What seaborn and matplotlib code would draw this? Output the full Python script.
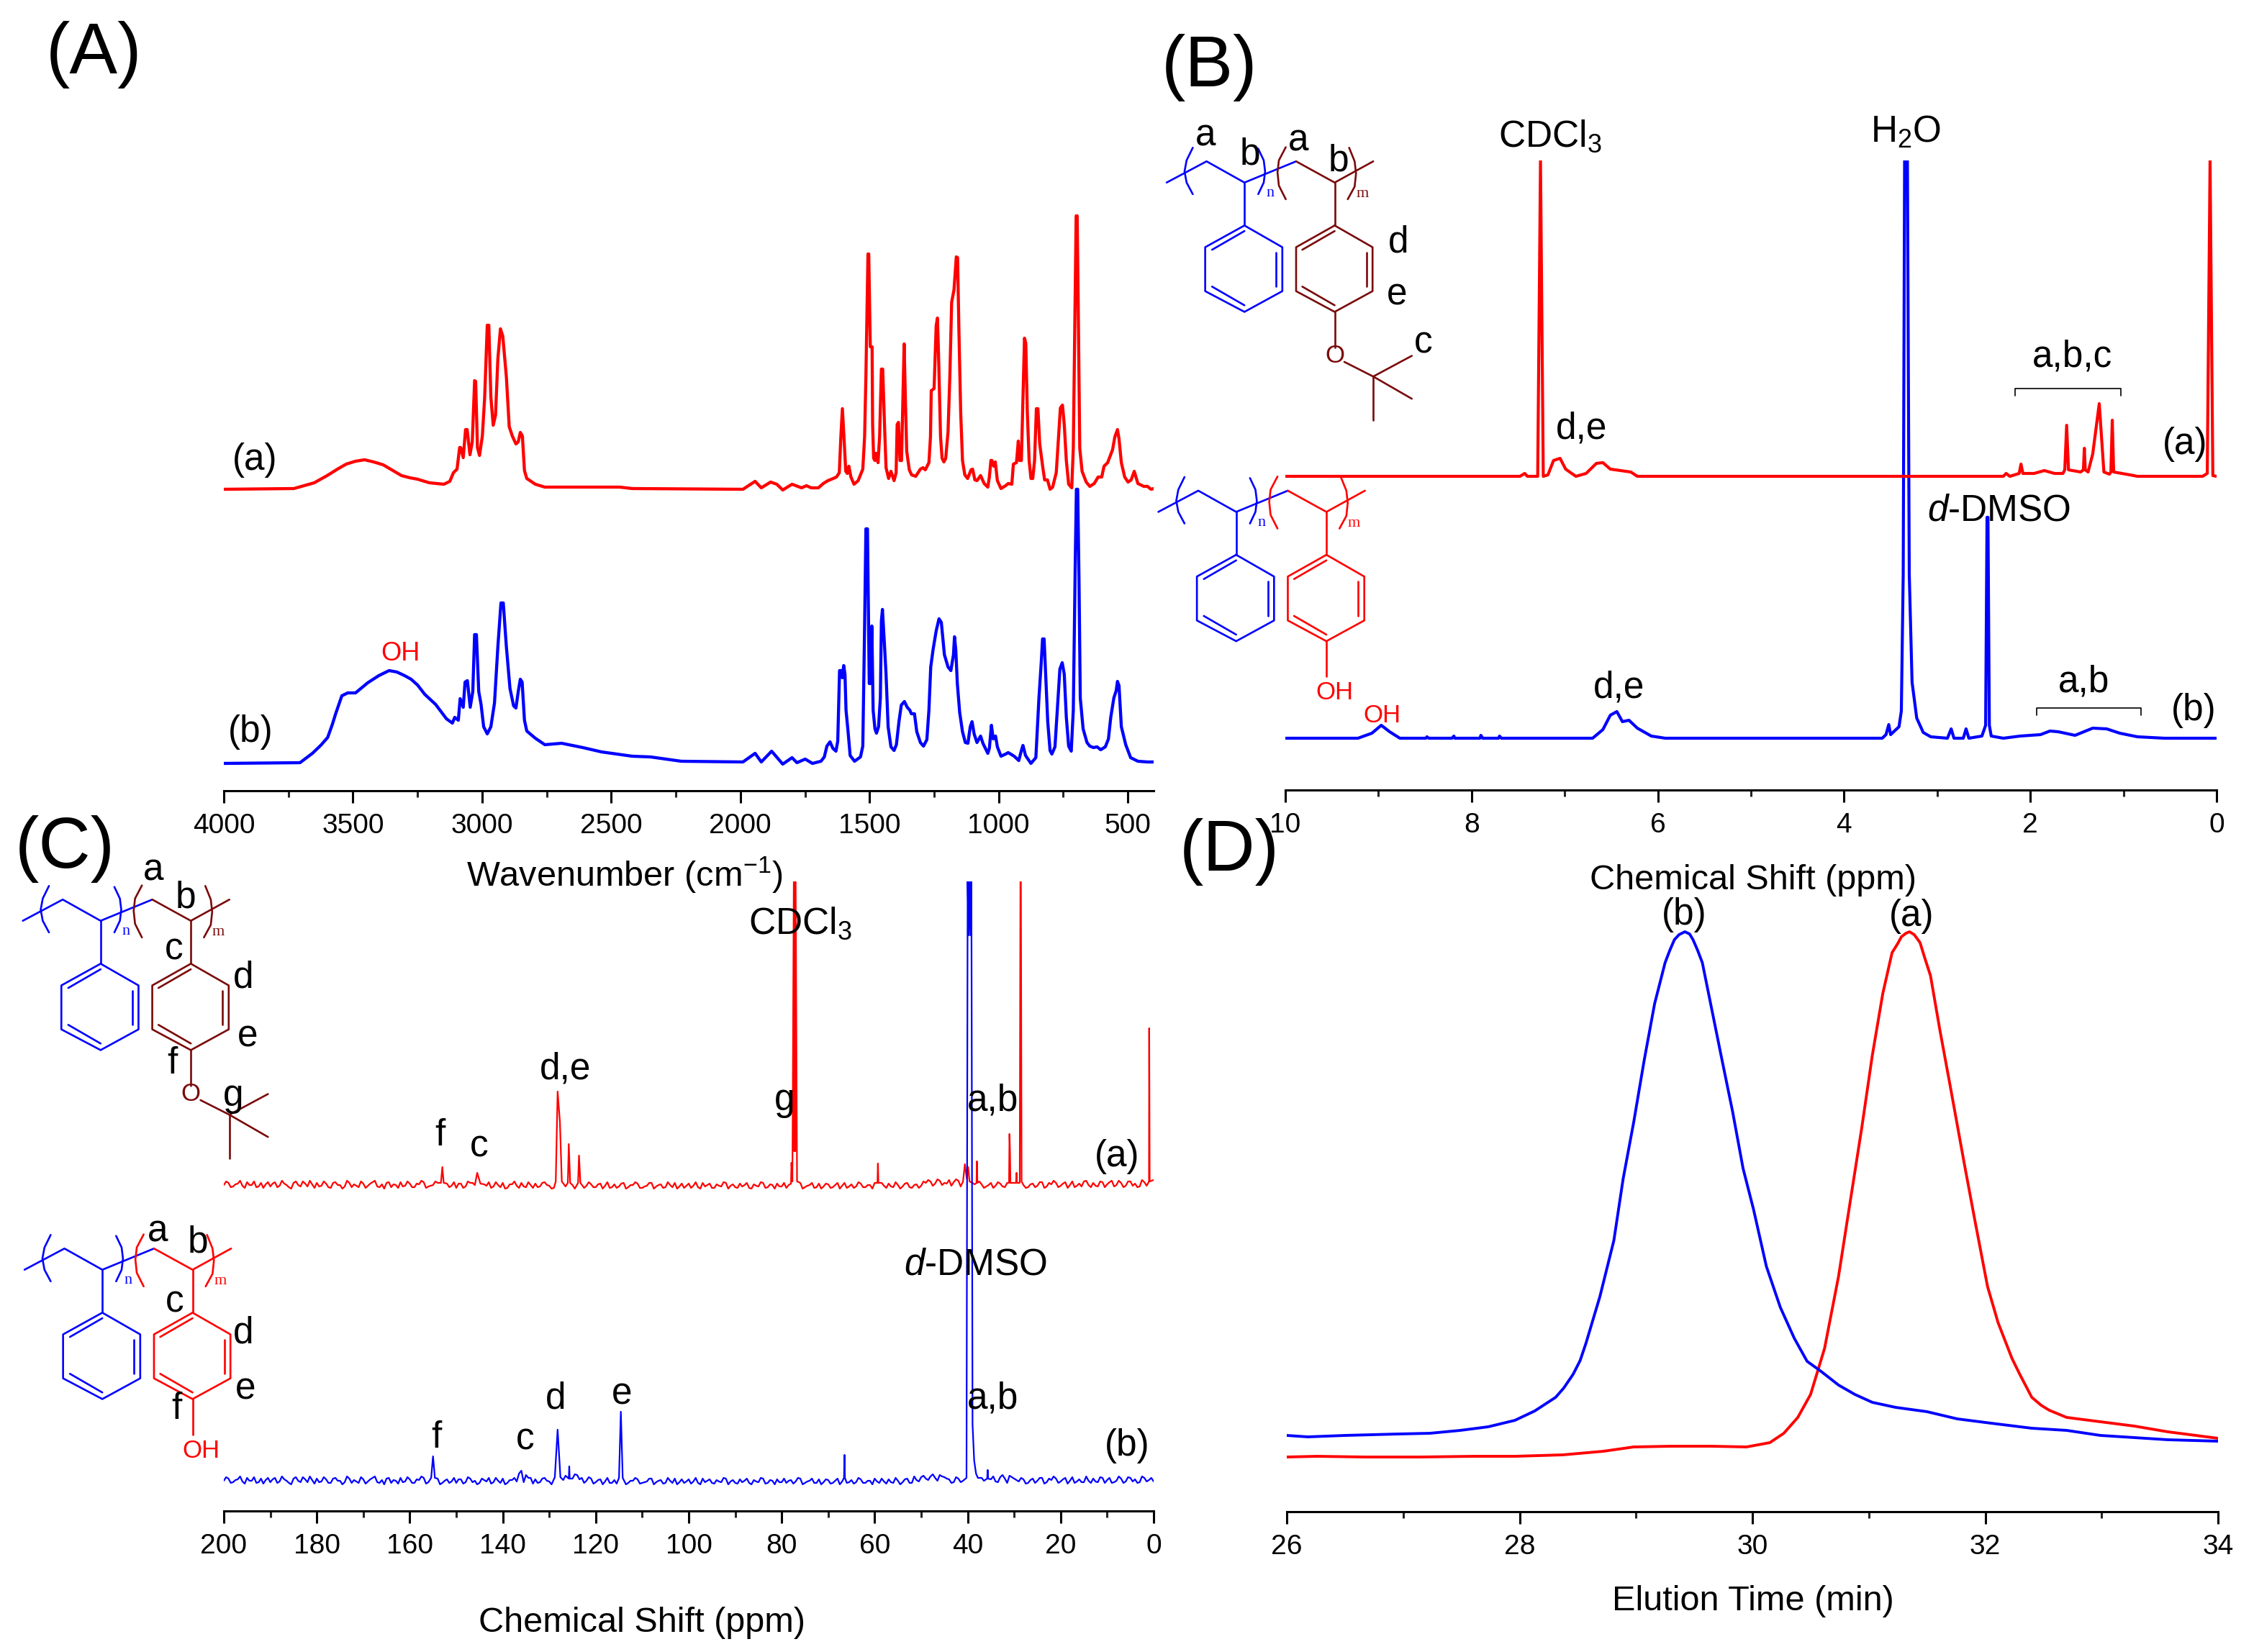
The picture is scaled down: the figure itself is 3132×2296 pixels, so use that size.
import numpy as np
import matplotlib
matplotlib.use("Agg")
import matplotlib.pyplot as plt
import seaborn as sns

W, H = 3132, 2296
RED = "#FF0000"
BLUE = "#0000FF"
DARK = "#7A0A0A"

# ---- (A) FTIR, wavenumber vs intensity (a.u.)
ir_a_wn = [4000, 3729, 3669, 3650, 3600, 3560, 3526, 3490, 3455, 3420, 3383, 3350, 3312, 3280,
           3250, 3204, 3148, 3125, 3111, 3097, 3087, 3083, 3073, 3064, 3058, 3047, 3038, 3029, 3025, 3018, 3010, 2999,
           2990, 2980, 2974, 2966, 2957, 2948, 2939, 2929, 2920, 2906, 2895, 2883, 2869, 2860, 2852, 2844, 2836, 2827,
           2794, 2757, 2692, 2467, 2419, 1990, 1943, 1919, 1883, 1859, 1836,
           1800, 1763, 1744, 1726, 1698, 1679, 1661, 1647, 1628, 1617, 1611, 1605, 1599, 1592, 1586, 1580, 1572, 1560,
           1544, 1526, 1519, 1514, 1506, 1503, 1497, 1490, 1488, 1484, 1479, 1475, 1467, 1461, 1454, 1449, 1442, 1436,
           1426, 1417, 1405, 1397, 1393, 1388, 1382, 1376, 1371, 1366, 1361, 1356, 1346, 1337, 1321, 1303, 1293, 1284,
           1270, 1264, 1261, 1250, 1242, 1237, 1233, 1225, 1219, 1212, 1205, 1196, 1189, 1182, 1173, 1164, 1159, 1154,
           1147, 1140, 1131, 1120, 1107, 1101, 1092, 1084, 1070, 1056, 1042, 1036, 1030, 1026, 1019, 1013, 1005, 991,
           973, 963, 949, 943, 931, 924, 919, 912, 906, 900, 895, 889, 882, 875, 868, 861, 854, 848, 841, 829, 822, 811,
           801, 791, 777, 768, 761, 753, 746, 738, 729, 717, 711, 703, 700, 696, 692, 686, 677, 661, 647, 630, 615, 601,
           592, 578, 559, 550, 540, 534, 525, 512, 499, 487, 475, 461, 438, 424, 410, 400]
ir_a_int = [419, 420, 426, 428, 438, 447, 454, 458, 460, 457, 453, 446, 438, 435,
            433, 428, 426, 430, 442, 447, 477, 477, 463, 502, 502, 467, 485, 570, 569, 477, 466, 493,
            547, 647, 647, 547, 508, 522, 600, 642, 632, 575, 506, 493, 482, 485, 498, 493, 445, 434,
            426, 422, 422, 422, 420, 419, 430, 421, 429, 426, 418,
            426, 421, 424, 421, 421, 427, 431, 433, 436, 442, 492, 531, 492, 444, 441, 451, 436, 426,
            431, 447, 492, 576, 746, 746, 617, 617, 509, 462, 459, 469, 456, 492, 586, 586, 509, 449,
            434, 444, 431, 442, 509, 512, 459, 459, 542, 621, 542, 472, 446, 439, 437, 447, 449, 446,
            456, 492, 556, 559, 646, 657, 609, 492, 462, 457, 462, 499, 576, 679, 696, 742, 741, 642,
            526, 459, 439, 434, 446, 447, 432, 431, 438, 427, 422, 436, 459, 459, 451, 457, 431, 420,
            424, 427, 426, 454, 456, 486, 459, 459, 542, 629, 622, 526, 459, 434, 434, 459, 531, 531, 482, 449, 432, 432,
            419, 422, 442, 492, 532, 536, 509, 459, 426, 421, 476, 709, 799, 799, 676, 476, 444, 429, 423, 427, 436, 436,
            451, 456, 474, 492, 502, 489, 456, 436, 429, 432, 444, 427, 423, 423, 419, 420]
ir_b_wn = [4000, 3705, 3657, 3625, 3598, 3580, 3567, 3543, 3520, 3490, 3443, 3400, 3360, 3330, 3300, 3275,
           3250, 3222, 3180, 3138, 3115, 3106, 3092, 3085, 3073, 3066, 3057, 3046, 3036, 3029, 3022, 3013, 3004, 2994,
           2980, 2966, 2952, 2939, 2927, 2918, 2906, 2892, 2878, 2869, 2860, 2852, 2845, 2836, 2827, 2794, 2757, 2692,
           2610, 2538, 2419, 2348, 2229, 1990, 1943, 1919, 1879, 1836,
           1800, 1781, 1749, 1721, 1688, 1675, 1665, 1653, 1642, 1630, 1623, 1616, 1609, 1605, 1600, 1595, 1591, 1583,
           1575, 1558, 1535, 1526, 1519, 1514, 1508, 1501, 1496, 1491, 1486, 1479, 1473, 1465, 1458, 1454, 1450, 1442,
           1436, 1428, 1417, 1405, 1396, 1386, 1377, 1365, 1354, 1344, 1338, 1326, 1317, 1303, 1291, 1278, 1270, 1263,
           1254, 1242, 1231, 1222, 1210, 1196, 1185, 1175, 1171, 1166, 1160, 1151, 1140, 1129, 1119, 1110, 1103, 1095,
           1084, 1070, 1061, 1042, 1036, 1028, 1021, 1012, 1005, 991, 973, 963, 940, 922, 912, 906, 896, 875, 856, 844,
           835, 830, 824, 818, 810, 801, 794, 782, 773, 763, 754, 746, 738, 729, 719, 711, 703, 699, 694, 689, 684, 673,
           658, 647, 633, 619, 605, 587, 575, 566, 554, 545, 540, 534, 525, 508, 489, 461, 424, 400]
ir_b_int = [38, 39, 52, 63, 74, 92, 107, 132, 136, 136, 150, 160, 167, 165, 160, 155,
            147, 134, 120, 100, 94, 102, 98, 128, 116, 151, 153, 116, 138, 217, 217, 138, 120, 89,
            79, 89, 122, 200, 261, 261, 200, 142, 118, 115, 138, 155, 151, 98, 83, 73, 64, 66,
            60, 54, 48, 47, 41, 40, 52, 40, 55, 37,
            46, 39, 44, 38, 41, 47, 62, 68, 59, 55, 69, 167, 167, 157, 174, 162, 112, 82,
            49, 41, 47, 62, 229, 364, 364, 149, 149, 229, 112, 86, 80, 89, 129, 236, 252, 202,
            162, 89, 61, 56, 64, 96, 119, 124, 116, 112, 107, 107, 82, 67, 62, 71, 112, 172,
            196, 222, 239, 234, 189, 172, 167, 189, 214, 196, 149, 109, 82, 67, 66, 89, 96, 79,
            67, 76, 66, 52, 59, 91, 72, 76, 61, 48, 51, 53, 48, 42, 56, 63, 49, 38, 46, 129,
            179, 211, 211, 162, 96, 56, 51, 61, 112, 169, 178, 162, 102, 62, 55, 112, 329, 419, 419, 296, 129, 86,
            67, 62, 60, 61, 57, 61, 72, 102, 129, 139, 152, 146, 89, 64, 46, 41, 40, 40]
ir_ticks = [4000, 3500, 3000, 2500, 2000, 1500, 1000, 500]

# ---- (B) 1H NMR
h1_a_ppm = [10, 7.48, 7.43, 7.40, 7.29, 7.26, 7.23, 7.18, 7.12, 7.05, 6.99, 6.88, 6.77, 6.66, 6.59, 6.51, 6.40,
            6.29, 6.22, 2.29, 2.26, 2.22, 2.12, 2.10, 2.08, 1.96, 1.85, 1.74, 1.65, 1.63, 1.61, 1.59, 1.46, 1.43, 1.42,
            1.41, 1.38, 1.33, 1.26, 1.21, 1.15, 1.135, 1.12, 1.105, 0.93, 0.85, 0.15, 0.10, 0.07, 0.04, 0]
h1_a_int = [436, 436, 440, 436, 436, 875, 436, 438, 458, 461, 446, 436, 440, 454, 455, 446, 444,
            442, 436, 436, 440, 436, 440, 453, 440, 440, 444, 440, 440, 445, 507, 445, 442, 445, 475,
            445, 442, 467, 537, 442, 439, 442, 514, 442, 438, 436, 436, 440, 875, 437, 436]
h1_b_ppm = [10, 9.22, 9.07, 8.97, 8.88, 8.77, 8.49, 8.48, 8.46, 8.21, 8.19, 8.18, 7.91, 7.90, 7.88, 7.71, 7.70, 7.68,
            6.70, 6.59, 6.51, 6.44, 6.38, 6.31, 6.22, 6.07, 5.92, 3.59, 3.55, 3.52, 3.50, 3.41, 3.385, 3.365, 3.35, 3.32,
            3.30, 3.27, 3.22, 3.15, 3.07, 2.89, 2.85, 2.82, 2.72, 2.69, 2.66, 2.52, 2.48, 2.465, 2.455, 2.44, 2.42, 2.29,
            2.11, 1.89, 1.79, 1.70, 1.52, 1.33, 1.18, 1.04, 0.85, 0.56, 0]
h1_b_int = [72, 72, 79, 90, 81, 72, 72, 74, 72, 72, 75, 72, 72, 76, 72, 72, 75, 72,
            72, 84, 104, 109, 95, 97, 86, 75, 72, 72, 77, 91, 77, 88, 110, 300, 875, 875,
            300, 150, 100, 80, 74, 72, 85, 72, 72, 85, 72, 75, 90, 379, 379, 90, 75, 72,
            75, 77, 82, 81, 76, 86, 85, 79, 74, 72, 72]
h1_ticks = [10, 8, 6, 4, 2, 0]

# ---- (C) 13C NMR: baseline noise on whole ppm, on half ppm, then the peaks
c13_a_noise = [453, 456, 451, 455, 452, 457, 453, 450, 456, 454, 451, 457, 452, 455, 450, 456, 453, 458, 451, 454,
               456, 452, 455, 449, 457, 453, 451, 456, 454, 450, 455, 452, 457, 451, 454, 456, 450, 453, 457, 452,
               455, 450, 454, 457, 451, 453, 456, 450, 455, 452, 449, 455, 451, 456, 453, 450, 454, 457, 451, 453,
               456, 449, 454, 452, 456, 450, 453, 455, 451, 457, 452, 449, 454, 456, 451, 453, 449, 456, 452, 454,
               450, 455, 452, 449, 454, 451, 456, 450, 453, 455, 449, 452, 456, 451, 454, 450, 453, 456, 451, 449,
               455, 452, 450, 456, 453, 449, 454, 451, 456, 452, 450, 455, 453, 449, 454, 451, 456, 450, 453, 455,
               451, 449, 454, 452, 456, 450, 453, 449, 455, 451, 454, 450, 456, 452, 449, 454, 451, 455, 450, 453,
               456, 449, 452, 455, 450, 453, 451, 456, 449, 454, 452, 456, 458, 455, 459, 456, 460, 457, 459, 455,
               452, 456, 450, 454, 451, 456, 452, 455, 450, 454, 456, 451, 453, 450, 455, 452, 457, 451, 454, 456,
               452, 457, 453, 450, 455, 458, 453, 456, 451, 457, 454, 459, 453, 456, 452, 458, 455, 451, 457, 454,
               460]
c13_a_noise_mid = [458, 450, 454, 459, 449, 453, 458, 451, 449, 457, 455, 450, 459, 453, 448, 458, 451, 455, 459, 449,
                   451, 458, 450, 456, 453, 448, 459, 450, 452, 458, 449, 455, 459, 450, 448, 457, 454, 449, 451, 458,
                   450, 455, 459, 449, 452, 458, 448, 453, 450, 457, 455, 449, 458, 451, 448, 456, 452, 449, 457, 450,
                   448, 454, 458, 449, 451, 457, 449, 450, 456, 453, 448, 458, 449, 451, 456, 448, 452, 449, 457, 450,
                   454, 448, 457, 450, 449, 455, 448, 453, 457, 449, 451, 456, 448, 453, 449, 457, 450, 448, 455, 452,
                   449, 457, 448, 451, 455, 449, 452, 457, 448, 454, 449, 451, 456, 448, 452, 457, 449, 454, 448, 451,
                   456, 453, 449, 457, 448, 452, 456, 450, 448, 455, 449, 453, 448, 456, 451, 449, 457, 450, 453, 448,
                   452, 456, 449, 451, 457, 448, 455, 450, 453, 449, 458, 460, 452, 461, 453, 455, 452, 461, 451, 458,
                   449, 454, 458, 449, 453, 449, 457, 451, 456, 449, 451, 458, 449, 454, 450, 457, 449, 456, 459, 450,
                   455, 449, 458, 452, 451, 459, 450, 452, 458, 450, 457, 451, 459, 450, 458, 452, 450, 460, 452, 458]
c13_b_noise = [42, 45, 40, 44, 41, 46, 42, 39, 45, 43, 40, 46, 41, 44, 39, 45, 42, 47, 40, 43,
               45, 41, 44, 39, 46, 42, 40, 45, 43, 39, 44, 41, 46, 40, 43, 45, 39, 42, 46, 41,
               44, 39, 43, 46, 40, 42, 45, 39, 44, 41, 39, 44, 40, 45, 42, 39, 43, 46, 40, 42,
               45, 39, 43, 41, 45, 39, 42, 44, 40, 46, 41, 44, 47, 43, 49, 45, 50, 46, 42, 45,
               40, 44, 41, 39, 43, 40, 45, 39, 42, 44, 39, 41, 45, 40, 43, 39, 42, 45, 40, 39,
               44, 41, 39, 45, 42, 39, 43, 40, 45, 41, 39, 44, 42, 39, 43, 40, 45, 39, 42, 44,
               40, 39, 43, 41, 45, 39, 42, 39, 44, 40, 43, 39, 45, 41, 39, 43, 40, 44, 39, 42,
               45, 39, 41, 44, 39, 42, 40, 45, 39, 43, 47, 45, 48, 46, 50, 47, 44, 40, 45, 42,
               44, 48, 41, 46, 40, 44, 41, 47, 45, 49, 45, 41, 44, 39, 45, 42, 46, 40, 43, 45,
               41, 46, 42, 39, 44, 40, 42, 45, 40, 46, 43, 39, 42, 45, 41, 46, 44, 40, 46, 43,
               41]
c13_b_noise_mid = [47, 39, 43, 48, 38, 42, 47, 40, 38, 46, 44, 39, 48, 42, 37, 47, 40, 44, 48, 38,
                   40, 47, 39, 45, 42, 37, 48, 39, 41, 47, 38, 44, 48, 39, 37, 46, 43, 38, 40, 47,
                   39, 44, 48, 38, 41, 47, 37, 42, 39, 46, 44, 38, 47, 40, 37, 45, 41, 38, 46, 39,
                   37, 43, 47, 38, 40, 46, 38, 39, 45, 42, 37, 47, 39, 49, 41, 51, 44, 39, 47, 38,
                   43, 37, 46, 39, 38, 44, 37, 42, 46, 38, 40, 45, 37, 42, 38, 46, 39, 37, 44, 41,
                   38, 46, 37, 40, 44, 38, 41, 46, 37, 43, 38, 40, 45, 37, 41, 46, 38, 43, 37, 40,
                   45, 42, 38, 46, 37, 41, 45, 39, 37, 44, 38, 42, 37, 45, 40, 38, 46, 39, 42, 37,
                   41, 45, 38, 40, 46, 37, 44, 39, 48, 41, 49, 43, 51, 42, 48, 45, 39, 47, 40, 48,
                   38, 43, 47, 42, 38, 48, 40, 50, 39, 47, 43, 46, 38, 43, 39, 46, 38, 45, 48, 39,
                   44, 38, 47, 41, 40, 48, 39, 41, 47, 39, 46, 40, 48, 39, 47, 41, 39, 48, 41, 46]
c13_a_peak_ppm = [153.3, 153, 152.7, 146.5, 145.5, 144.8, 128.6, 128.2, 127.7, 127.3, 126, 125.8, 125.5, 123.8, 123.6,
                  123.3, 78, 77.9, 77.7, 77.4, 77.3, 77.2, 77.1, 77.0, 76.7, 59.4, 59.3, 59.2, 41, 40.6, 40.2, 39.9,
                  39.6, 38.1, 38, 37.9, 31.1, 31, 30.9, 30.8, 29.6, 29.5, 29.4, 28.8, 28.65, 28.55, 28.4, 1.0, 0.95, 0.85]
c13_a_peak_int = [456, 478, 456, 456, 470, 455, 458, 583, 540, 458, 456, 510, 456, 456, 494,
                  456, 455, 484, 458, 875, 500, 875, 500, 875, 458, 456, 483, 456, 458, 482, 462, 478,
                  458, 456, 486, 456, 456, 524, 500, 456, 456, 470, 456, 456, 875, 875, 458, 458, 671, 458]
c13_b_peak_ppm = [155.4, 155, 154.6, 137.5, 136.5, 136, 135, 134, 128.8, 128.2, 127.6, 125.8, 125.7, 125.6, 115, 114.6,
                  114.2, 66.6, 66.5, 66.4, 40.25, 40.0, 39.8, 39.6, 39.4, 39.2, 38.95, 38.6, 38.2, 37.8, 35.8, 35.7,
                  35.6]
c13_b_peak_int = [46, 76, 46, 46, 52, 56, 50, 46, 47, 113, 47, 45, 62, 45, 46, 138,
                  46, 46, 78, 46, 46, 875, 800, 875, 800, 875, 120, 70, 52, 46, 45, 57,
                  45]
c13_ticks = [200, 180, 160, 140, 120, 100, 80, 60, 40, 20, 0]

# ---- (D) GPC traces
gpc_a_t = [26, 26.26, 26.67, 27.14, 27.61, 27.96, 28.37, 28.72, 28.98, 29.3, 29.65, 29.95, 30.15, 30.27, 30.39, 30.5,
           30.62, 30.74, 30.85, 30.94, 31.03, 31.12, 31.2, 31.25, 31.28, 31.32, 31.35, 31.39, 31.44, 31.48, 31.53, 31.61,
           31.7, 31.82, 31.91, 32.02, 32.11, 32.23, 32.3, 32.4, 32.48, 32.55, 32.7, 32.99, 33.28, 33.57, 33.81, 34]
gpc_a_int = [76, 77, 76, 76, 77, 77, 79, 84, 90, 91, 91, 90, 96, 109, 131, 163,
             227, 327, 441, 534, 634, 720, 777, 790, 799, 804, 806, 802, 791, 770, 745, 670,
             591, 484, 406, 313, 263, 213, 190, 159, 148, 141, 131, 125, 119, 111, 106, 102]
gpc_b_t = [26, 26.18, 26.5, 26.73, 26.96, 27.23, 27.49, 27.73, 27.96, 28.13, 28.31, 28.38, 28.46, 28.52, 28.57, 28.69,
           28.81, 28.89, 28.98, 29.07, 29.16, 29.25, 29.29, 29.33, 29.37, 29.42, 29.46, 29.49, 29.53, 29.57, 29.65, 29.74,
           29.83, 29.92, 30.01, 30.12, 30.24, 30.36, 30.47, 30.59, 30.74, 30.88, 31.03, 31.23, 31.5, 31.76, 32.05, 32.4,
           32.7, 32.99, 33.28, 33.57, 34]
gpc_b_int = [106, 104, 106, 107, 108, 109, 113, 118, 127, 140, 159, 172, 191, 210, 234, 299,
             377, 463, 541, 627, 706, 763, 780, 795, 802, 806, 803, 795, 780, 763, 699, 627,
             556, 477, 420, 341, 284, 241, 209, 195, 176, 163, 152, 145, 139, 129, 123, 116,
             113, 106, 103, 100, 98]
gpc_ticks = [26, 28, 30, 32, 34]

# ---- polymer sketch, same drawing is placed four times
chain_left = [(22, 162), (80, 120), (135, 162), (210, 120)]
chain_right = [(210, 120), (266, 162), (322, 120)]
stem_left = [(135, 162), (135, 247)]
stem_right = [(266, 162), (266, 247)]
ring_left = [(135, 247), (190, 290), (190, 377), (135, 418), (78, 377), (78, 290), (135, 247)]
ring_right = [(266, 247), (321, 290), (321, 377), (266, 418), (210, 377), (210, 290), (266, 247)]
inner_left = [[(88, 295), (135, 258)], [(181, 300), (181, 368)], [(88, 368), (135, 405)]]
inner_right = [[(219, 295), (266, 258)], [(312, 300), (312, 368)], [(219, 368), (266, 405)]]
paren_1 = [(60, 93), (51, 118), (48, 140), (51, 162), (60, 185)]
paren_2 = [(155, 95), (163, 118), (165, 140), (163, 162), (155, 185)]
paren_3 = [(195, 92), (185, 118), (183, 142), (185, 168), (195, 195)]
paren_4 = [(287, 93), (295, 120), (297, 144), (295, 170), (285, 195)]
oxy_bond = [(266, 418), (266, 488)]
tbu_bonds = [[(280, 517), (322, 546)], [(322, 546), (378, 505)], [(322, 546), (378, 590)], [(322, 546), (322, 632)]]

sns.set_theme(style="white")
plt.rcParams["font.family"] = ["Liberation Sans", "DejaVu Sans"]
plt.rcParams["mathtext.fontset"] = "custom"
plt.rcParams["mathtext.rm"] = "Liberation Sans"
plt.rcParams["mathtext.it"] = "Liberation Sans:italic"
plt.rcParams["mathtext.default"] = "regular"

fig = plt.figure(figsize=(W / 200, H / 200), dpi=200, facecolor="white")


def panel(left, right, bottom, top_h=875):
    ax = fig.add_axes([left / W, 1 - bottom / H, (right - left) / W, top_h / H])
    ax.set_facecolor("none")
    sns.despine(ax=ax, left=True, top=True, right=True)
    ax.spines["bottom"].set_linewidth(1.1)
    ax.spines["bottom"].set_color("black")
    ax.set_yticks([])
    ax.set_ylim(0, top_h)
    return ax


def bottom_ticks(ax, ticks, minor):
    ax.set_xticks(ticks)
    ax.set_xticks(minor, minor=True)
    ax.tick_params(axis="x", which="major", length=6.2, width=1.1, direction="out", pad=5,
                   labelsize=14, bottom=True, colors="black")
    ax.tick_params(axis="x", which="minor", length=3.2, width=1.1, direction="out", bottom=True)


def trace(ax, x, y, color, lw):
    sns.lineplot(x=x, y=y, ax=ax, color=color, linewidth=lw, estimator=None, sort=False, errorbar=None)
    ax.set_xlabel("")
    ax.set_ylabel("")


def with_peaks(noise, noise_mid, peak_x, peak_y):
    grid = np.linspace(200, 0, len(noise))
    grid_mid = grid[:-1] - 0.5
    all_x = np.concatenate([grid, grid_mid])
    all_y = np.concatenate([noise, noise_mid])
    px = np.array(peak_x)
    keep = np.array([np.abs(px - g).min() > 0.35 for g in all_x])
    x = np.concatenate([all_x[keep], px])
    y = np.concatenate([all_y[keep], np.array(peak_y)])
    order = np.argsort(-x)
    return x[order], y[order]


# panel A
ax_a = panel(311, 1603, 1099)
trace(ax_a, ir_a_wn, ir_a_int, RED, 1.55)
trace(ax_a, ir_b_wn, ir_b_int, BLUE, 1.55)
ax_a.set_xlim(4000, 400)
bottom_ticks(ax_a, ir_ticks, np.arange(3750, 400, -500))

# panel B
ax_b = panel(1786, 3080, 1098)
trace(ax_b, h1_b_ppm, h1_b_int, BLUE, 1.5)
trace(ax_b, h1_a_ppm, h1_a_int, RED, 1.5)
ax_b.set_xlim(10, 0)
bottom_ticks(ax_b, h1_ticks, np.arange(9, 0, -2))

# panel C
ax_c = panel(311, 1603, 2100)
x_a, y_a = with_peaks(c13_a_noise, c13_a_noise_mid, c13_a_peak_ppm, c13_a_peak_int)
x_b, y_b = with_peaks(c13_b_noise, c13_b_noise_mid, c13_b_peak_ppm, c13_b_peak_int)
trace(ax_c, x_a, y_a, RED, 0.8)
trace(ax_c, x_b, y_b, BLUE, 0.8)
ax_c.set_xlim(200, 0)
bottom_ticks(ax_c, c13_ticks, np.arange(190, 0, -20))

# panel D
ax_d = panel(1788, 3082, 2101)
trace(ax_d, gpc_a_t, gpc_a_int, RED, 1.4)
trace(ax_d, gpc_b_t, gpc_b_int, BLUE, 1.4)
ax_d.set_xlim(26, 34)
bottom_ticks(ax_d, gpc_ticks, [27, 29, 31, 33])

# overlay in reference pixels for labels and the sketches
over = fig.add_axes([0, 0, 1, 1], facecolor="none")
over.set_xlim(0, W)
over.set_ylim(H, 0)
over.axis("off")


def label(x, y, s, size=18.5, color="black", **kw):
    over.text(x, y, s, fontsize=size, color=color, ha="center", va="center", **kw)


def bond(points, ox, oy, color, lw=0.95):
    xs = [ox + p[0] * 0.957 for p in points]
    ys = [oy + p[1] * 0.702 for p in points]
    over.plot(xs, ys, color=color, linewidth=lw, solid_capstyle="round")


def sketch(ox, oy, color_right, tbu):
    for pts in [chain_left, stem_left, ring_left, paren_1, paren_2] + inner_left:
        bond(pts, ox, oy, BLUE)
    for pts in [chain_right, stem_right, ring_right, paren_3, paren_4, oxy_bond] + inner_right:
        bond(pts, ox, oy, color_right)
    label(ox + 172 * 0.957, oy + 183 * 0.702, "n", size=8, color=BLUE, family="Liberation Serif")
    label(ox + 306 * 0.957, oy + 185 * 0.702, "m", size=8, color=color_right, family="Liberation Serif")
    if tbu:
        for pts in tbu_bonds:
            bond(pts, ox, oy, color_right)
        label(ox + 266 * 0.957, oy + 505 * 0.702, "O", size=12.5, color=color_right)
    else:
        label(ox + 278 * 0.957, oy + 520 * 0.702, "OH", size=12.5, color=color_right)


sketch(1600, 140, DARK, True)
sketch(1588.5, 597.7, RED, False)
sketch(10.6, 1166, DARK, True)
sketch(13, 1651, RED, False)

# panel letters
for x, y, s in [(130, 76, "(A)"), (1680, 94, "(B)"), (90, 1180, "(C)"), (1708, 1184, "(D)")]:
    label(x, y, s, size=36)

# axis titles
label(868, 1216, "Wavenumber (cm$^{-1}$)", size=17.5)
label(2436, 1224, "Chemical Shift (ppm)", size=17.5)
label(892, 2256, "Chemical Shift (ppm)", size=17.5)
label(2436, 2226, "Elution Time (min)", size=17.5)

# panel A notes
label(354, 640, "(a)")
label(348, 1018, "(b)")
label(556, 908, "OH", size=13, color=RED)

# panel B notes
for x, y, s in [(2154, 190, "CDCl$_3$"), (2648, 184, "H$_2$O"), (2880, 496, "a,b,c"), (2198, 596, "d,e"),
                (3036, 618, "(a)"), (2778, 710, "$\\mathit{d}$-DMSO"), (3048, 988, "(b)"), (2896, 948, "a,b"),
                (2250, 956, "d,e"), (1675, 189, "a"), (1737, 215, "b"), (1804, 196, "a"), (1860, 224, "b"),
                (1943, 337, "d"), (1941, 410, "e"), (1978, 477, "c")]:
    label(x, y, s)
label(1920, 994, "OH", size=12.5, color=RED)
over.plot([2800, 2800, 2947, 2947], [550, 540, 540, 550], color="black", linewidth=0.6)
over.plot([2830, 2830, 2975, 2975], [994, 984, 984, 994], color="black", linewidth=0.6)

# panel C notes
for x, y, s in [(1112, 1284, "CDCl$_3$"), (1090, 1530, "g"), (1380, 1530, "a,b"), (1552, 1608, "(a)"),
                (1356, 1758, "$\\mathit{d}$-DMSO"), (611, 1579, "f"), (666, 1594, "c"), (786, 1486, "d,e"),
                (213, 1210, "a"), (258, 1248, "b"), (242, 1320, "c"), (338, 1359, "d"), (344, 1441, "e"),
                (239, 1478, "f"), (324, 1524, "g"), (219, 1712, "a"), (275, 1727, "b"), (243, 1810, "c"),
                (338, 1853, "d"), (341, 1931, "e"), (245, 1958, "f"), (606, 1999, "f"), (730, 2001, "c"),
                (772, 1944, "d"), (864, 1938, "e"), (1380, 1944, "a,b"), (1566, 2010, "(b)")]:
    label(x, y, s)

# panel D notes
label(2340, 1272, "(b)")
label(2656, 1274, "(a)")

fig.savefig("out.png", dpi=200, facecolor="white")
